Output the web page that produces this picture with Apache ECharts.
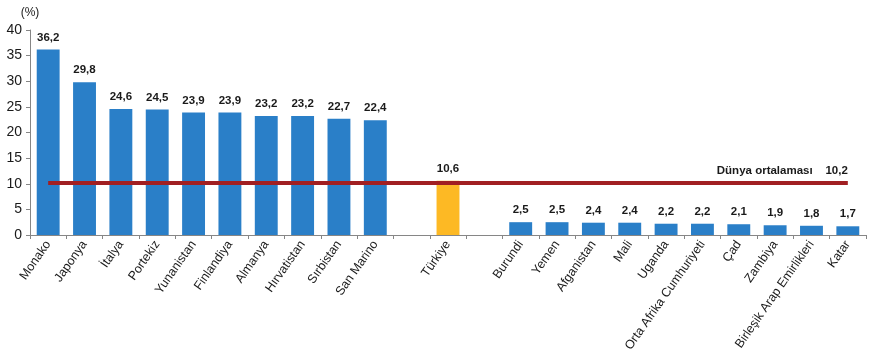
<!DOCTYPE html>
<html><head><meta charset="utf-8">
<script src="https://cdn.jsdelivr.net/npm/echarts@6/dist/echarts.min.js"></script>
<style>html,body{margin:0;padding:0;background:#fff}#c{width:875px;height:356px}</style>
</head><body><div id="c"></div>
<script>
const categories = ['Monako','Japonya','İtalya','Portekiz','Yunanistan','Finlandiya','Almanya','Hırvatistan','Sırbistan','San Marino','','Türkiye',' ','Burundi','Yemen','Afganistan','Mali','Uganda','Orta Afrika Cumhuriyeti','Çad','Zambiya','Birleşik Arap Emirlikleri','Katar'];
const values = [36.2,29.8,24.6,24.5,23.9,23.9,23.2,23.2,22.7,22.4,null,10.6,null,2.5,2.5,2.4,2.4,2.2,2.2,2.1,1.9,1.8,1.7];
const highlight = 'Türkiye';
const worldAverage = 10.2;
const worldLabel = 'Dünya ortalaması';
const yTicks = {min:0, max:40, interval:5};

const chart = echarts.init(document.getElementById('c'), null, {renderer:'canvas'});
const fmt = v => v.toFixed(1).replace('.', ',');
chart.setOption({
  animation:false,
  textStyle:{fontFamily:'Liberation Sans, Arial, sans-serif'},
  grid:{left:30,right:9,top:30,bottom:121,containLabel:false},
  xAxis:{type:'category',data:categories,
    axisLine:{lineStyle:{color:'#868686',width:1}},
    axisTick:{show:true,interval:0,length:4,lineStyle:{color:'#868686'}},
    axisLabel:{interval:0,rotate:55,fontSize:12.5,color:'#1a1a1a',margin:7}},
  yAxis:{type:'value',min:yTicks.min,max:yTicks.max,interval:yTicks.interval,
    name:'(%)',nameLocation:'end',nameGap:11,nameTextStyle:{fontSize:12,color:'#1a1a1a',align:'center'},
    axisLine:{show:true,lineStyle:{color:'#868686'}},
    axisTick:{show:true,length:4,lineStyle:{color:'#868686'}},
    splitLine:{show:false},
    axisLabel:{fontSize:14,color:'#1a1a1a',margin:8}},
  series:[{type:'bar',barWidth:'63%',
    data:values.map((v,i)=>({value:v,itemStyle:{color:categories[i]===highlight?'#FDB924':'#2A7FC8'}})),
    label:{show:true,position:'top',fontWeight:'bold',fontSize:11.5,color:'#1a1a1a',distance:6,
      formatter:p=>p.value==null?'':fmt(p.value)},
    markLine:{symbol:'none',silent:true,
      lineStyle:{color:'#A11F22',width:4,type:'solid'},
      label:{show:true,position:'insideEndTop',fontWeight:'bold',fontSize:11.5,color:'#1a1a1a',distance:[0,6],
        formatter:worldLabel+'    '+fmt(worldAverage)},
      data:[[{coord:[categories[0],worldAverage]},{coord:[categories[categories.length-1],worldAverage]}]]}
  }]
});
</script></body></html>
